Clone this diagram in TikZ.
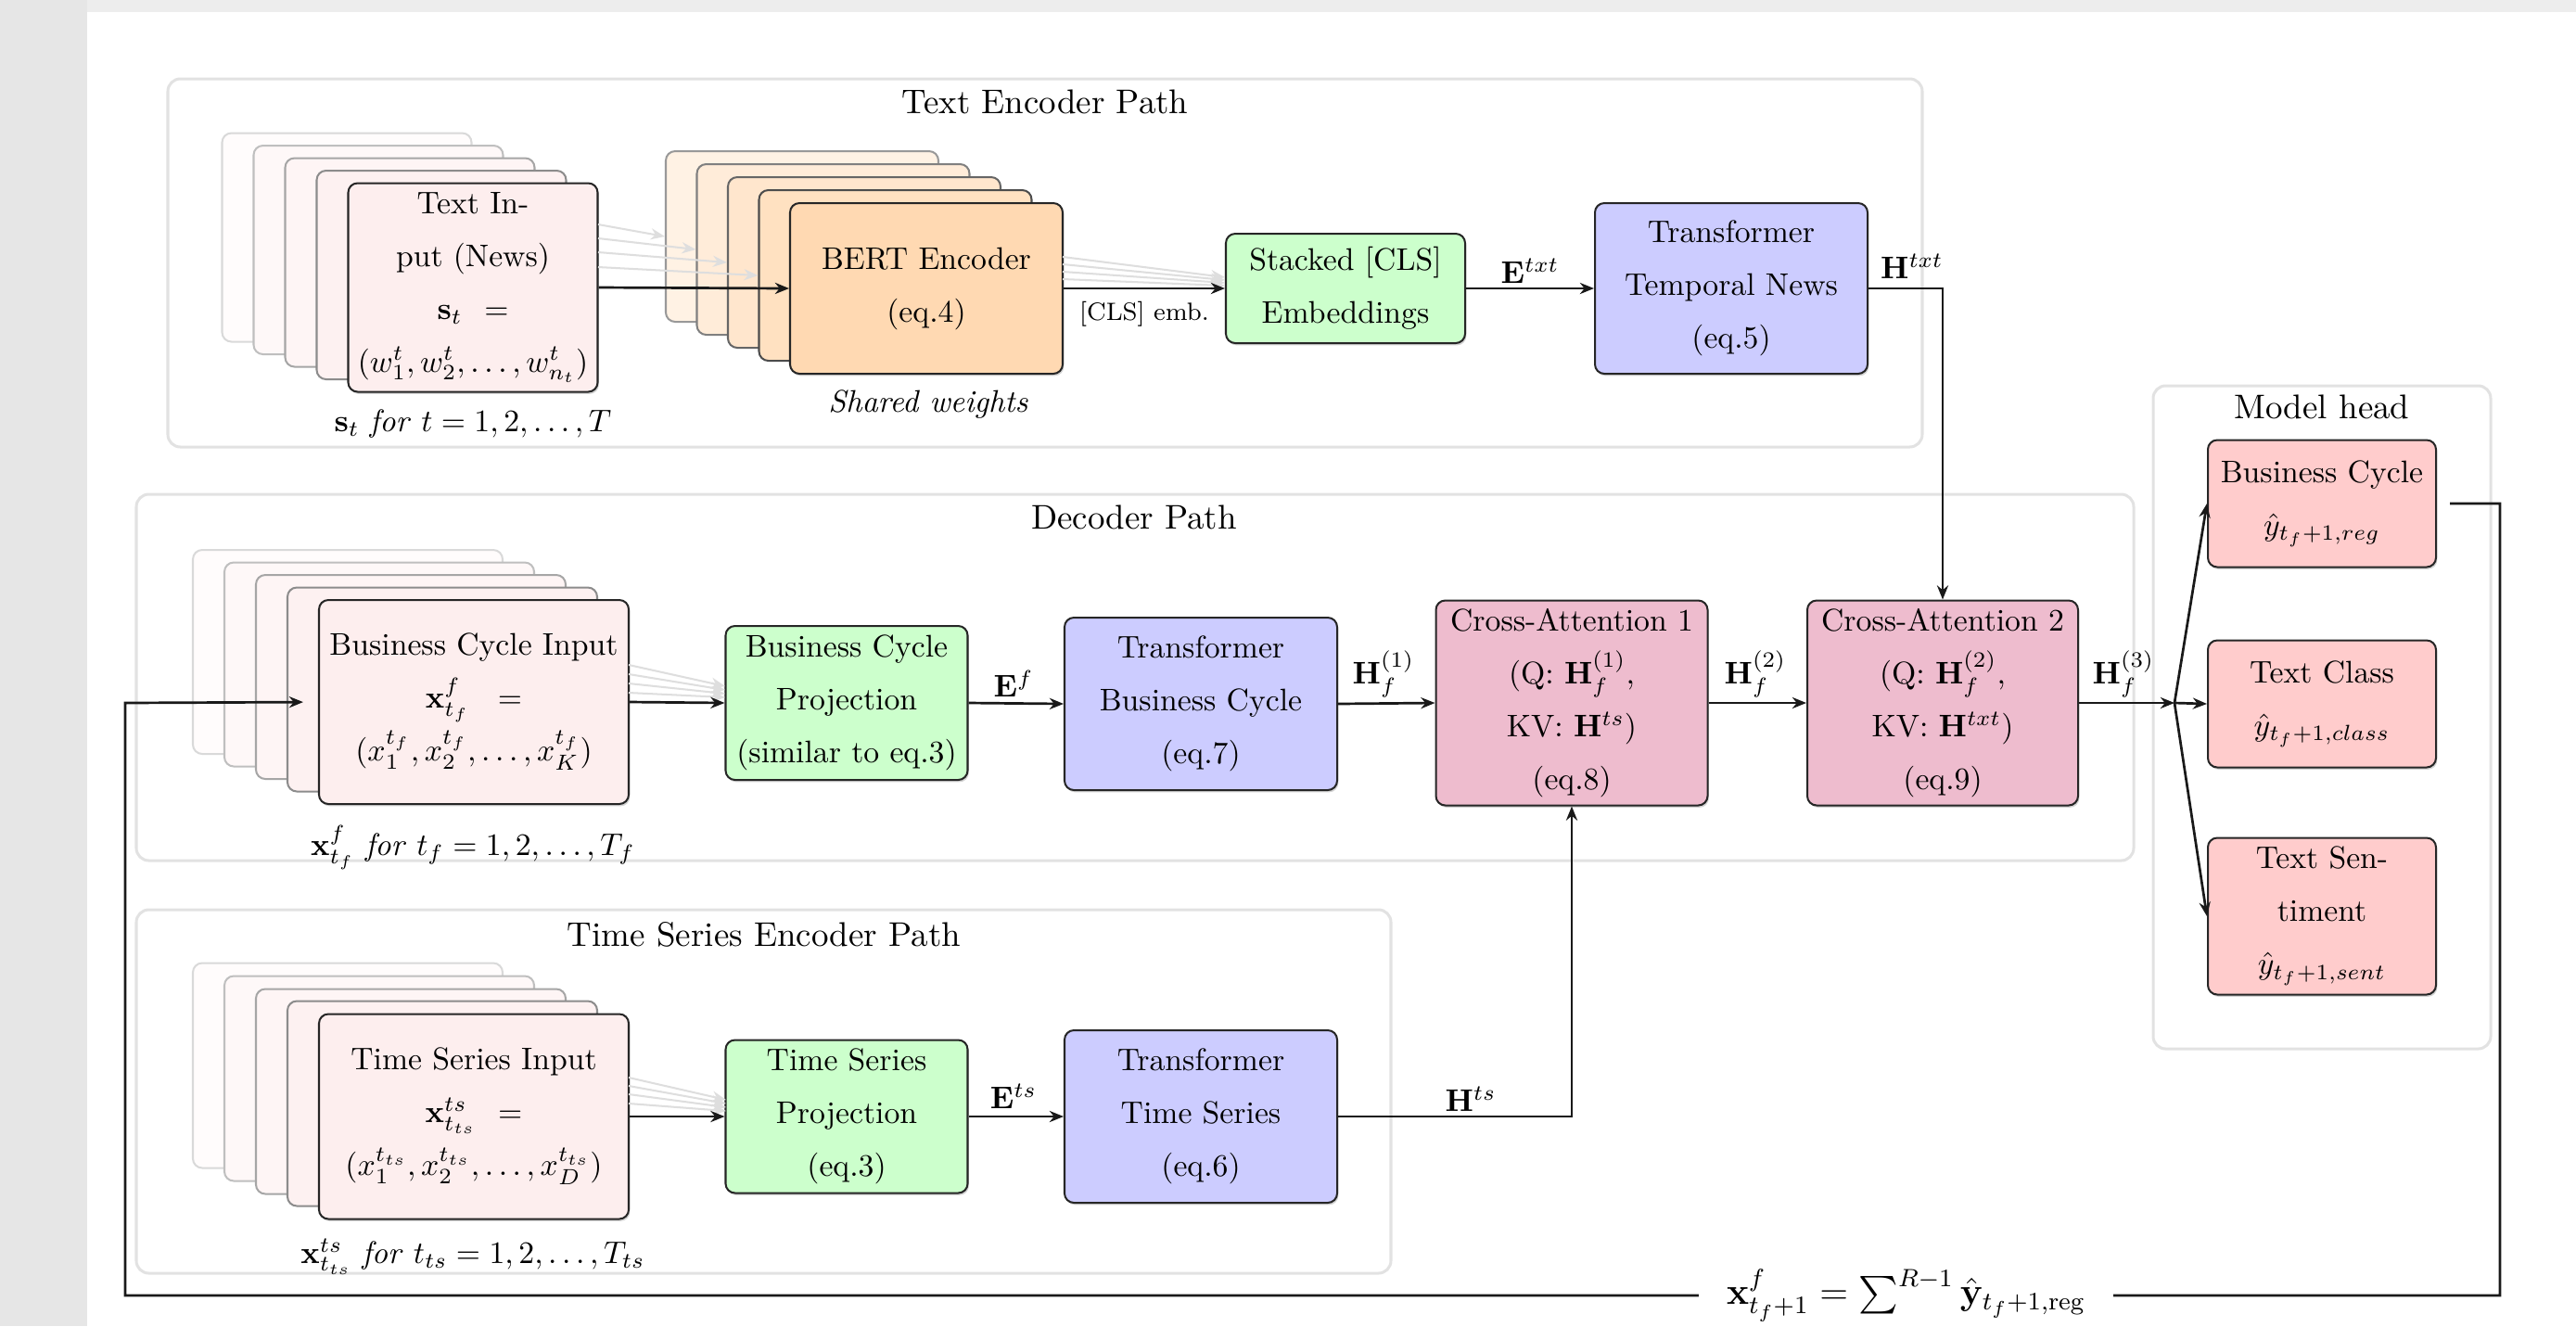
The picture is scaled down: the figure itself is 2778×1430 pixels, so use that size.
\documentclass[tikz,border=0pt]{standalone}
\usepackage{amsmath}
\usetikzlibrary{arrows.meta,calc,shadows}
\definecolor{inpink}{RGB}{253,238,238}
\definecolor{bertor}{RGB}{255,217,178}
\definecolor{projgr}{RGB}{204,255,204}
\definecolor{trlav}{RGB}{204,204,255}
\definecolor{camauve}{RGB}{238,188,206}
\definecolor{headpk}{RGB}{255,204,204}
\definecolor{grpline}{RGB}{226,226,226}
\definecolor{bggray}{RGB}{230,230,230}
\def\pxu{0.01042cm}
\begin{document}
\begin{tikzpicture}[x=\pxu,y=-\pxu,
  every node/.style={font=\fontsize{10}{16.9}\selectfont},
  wh/.style 2 args={minimum width=#1*\pxu, minimum height=#2*\pxu},
  box/.style={draw=black!85, line width=0.6pt, rounded corners=3pt, align=center, inner sep=1pt},
  shbox/.style={box, drop shadow={shadow xshift=0.4pt, shadow yshift=-0.7pt, opacity=0.35}},
  grp/.style={draw=grpline, line width=0.9pt, rounded corners=4pt, fill=white},
  gtitle/.style={font=\fontsize{10.95}{13}\selectfont},
  conn/.style={draw=black!90, line width=0.8pt, -{Stealth[length=4.5pt,width=3.6pt]}},
  garr/.style={draw=black!13, line width=0.6pt, -{Stealth[length=4.5pt,width=3.6pt]}},
  lbl/.style={inner sep=1pt},
  inbox/.style={wh={269}{225}},
  bertbox/.style={wh={294}{184}},
  dinbox/.style={wh={334}{220}},
]
\useasboundingbox (0,0) rectangle (2778,1430);
% screenshot margins
\fill[bggray] (0,0) rectangle (94,1430);
\fill[bggray!70] (94,0) rectangle (2778,13);

% ---------------- groups ----------------
\node[grp, wh={1892}{397}] (gtext) at (1127,283.5) {};
\node[gtitle] (ttext) at (1127,110) {Text Encoder Path};
\node[grp, wh={2154}{395}] (gdec) at (1224,730.5) {};
\node[gtitle] (tdec) at (1223,558) {Decoder Path};
\node[grp, wh={1353}{392}] (gts) at (823.5,1177) {};
\node[gtitle] (tts) at (824,1008) {Time Series Encoder Path};
\node[grp, wh={364}{715}] (ghead) at (2504,773.5) {};
\node[gtitle] (thead) at (2504,439) {Model head};

% ---------------- text encoder path ----------------
\node[box, inbox, fill=inpink!20!white, draw=black!15] (tin1) at (374,256) {};
\node[box, inbox, fill=inpink!40!white, draw=black!25] (tin2) at (408,269.5) {};
\node[box, inbox, fill=inpink!60!white, draw=black!35] (tin3) at (442,283) {};
\node[box, inbox, fill=inpink!80!white, draw=black!45] (tin4) at (476,296.5) {};
\node[shbox, inbox, fill=inpink] (tin) at (510,310)
  {Text In-\\put (News)\\$\mathbf{s}_t$\hspace{7pt}$=$\\$(w_1^t,w_2^t,\ldots,w_{n_t}^t)$};
\node[lbl] (tincap) at (510,457) {$\mathbf{s}_t$ \textit{for} $t=1,2,\ldots,T$};

\node[box, bertbox, fill=bertor!35!white, draw=black!40] (bert1) at (865,255) {};
\node[box, bertbox, fill=bertor!50!white, draw=black!50] (bert2) at (898.5,269) {};
\node[box, bertbox, fill=bertor!65!white, draw=black!60] (bert3) at (932,283) {};
\node[box, bertbox, fill=bertor!80!white, draw=black!70] (bert4) at (965.5,297) {};
\node[shbox, bertbox, fill=bertor] (bert) at (999,311) {BERT Encoder\\(eq.4)};
\node[lbl] (shared) at (1001,436) {\textit{Shared weights}};

\node[shbox, fill=projgr, wh={258}{118}] (stk) at (1451,311)
  {Stacked [CLS]\\Embeddings};
\node[shbox, fill=trlav, wh={294}{184}] (ttn) at (1867,311)
  {Transformer\\Temporal News\\(eq.5)};

% gray fan arrows (text path)
\coordinate (ta1) at (645,242);
\coordinate (ta2) at (645,257);
\coordinate (ta3) at (645,272);
\coordinate (ta4) at (645,288);
\draw[garr] (ta1) -- (bert1.west);
\draw[garr] (ta2) -- (bert2.west);
\draw[garr] (ta3) -- (bert3.west);
\draw[garr] (ta4) -- (bert4.west);
\draw[conn] (tin.east) -- (bert.west);

\coordinate (tb1) at (1146,277);
\coordinate (tb2) at (1146,285);
\coordinate (tb3) at (1146,293);
\coordinate (tb4) at (1146,301);
\coordinate (te1) at (1321,299);
\coordinate (te2) at (1321,302);
\coordinate (te3) at (1321,305);
\coordinate (te4) at (1321,308);
\draw[garr] (tb1) -- (te1);
\draw[garr] (tb2) -- (te2);
\draw[garr] (tb3) -- (te3);
\draw[garr] (tb4) -- (te4);
\draw[conn] (bert.east) -- (stk.west);
\node[lbl, font=\fontsize{8}{9.5}\selectfont] (clslbl) at (1234,339) {[CLS] emb.};
\draw[conn] (stk.east) -- (ttn.west);
\node[lbl] (letxt) at (1650,292) {$\mathbf{E}^{txt}$};

% ---------------- decoder path ----------------
\node[box, dinbox, fill=inpink!20!white, draw=black!15] (bcin1) at (375,703) {};
\node[box, dinbox, fill=inpink!40!white, draw=black!25] (bcin2) at (409,716.5) {};
\node[box, dinbox, fill=inpink!60!white, draw=black!35] (bcin3) at (443,730) {};
\node[box, dinbox, fill=inpink!80!white, draw=black!45] (bcin4) at (477,743.5) {};
\node[shbox, dinbox, fill=inpink] (bcin) at (511,757)
  {Business Cycle Input\\$\mathbf{x}^{f}_{t_f}$\hspace{9pt}$=$\\$(x_1^{t_f},x_2^{t_f},\ldots,x_K^{t_f})$};
\node[lbl] (bccap) at (510,914) {$\mathbf{x}^{f}_{t_f}$ \textit{for} $t_f=1,2,\ldots,T_f$};

\node[shbox, fill=projgr, wh={261}{166}] (bcproj) at (913,758)
  {Business Cycle\\Projection\\(similar to eq.3)};
\node[shbox, fill=trlav, wh={294}{186}] (tbc) at (1295,759)
  {Transformer\\Business Cycle\\(eq.7)};
\node[shbox, fill=camauve, wh={293}{221}] (ca1) at (1695,758)
  {Cross-Attention 1\\(Q: $\mathbf{H}_f^{(1)}$,\\KV: $\mathbf{H}^{ts}$)\\(eq.8)};
\node[shbox, fill=camauve, wh={292}{221}] (ca2) at (2095,758)
  {Cross-Attention 2\\(Q: $\mathbf{H}_f^{(2)}$,\\KV: $\mathbf{H}^{txt}$)\\(eq.9)};

\coordinate (ba1) at (678,717);
\coordinate (ba2) at (678,727);
\coordinate (ba3) at (678,737);
\coordinate (ba4) at (678,747);
\coordinate (be1) at (782,740);
\coordinate (be2) at (782,744);
\coordinate (be3) at (782,748);
\coordinate (be4) at (782,752);
\draw[garr] (ba1) -- (be1);
\draw[garr] (ba2) -- (be2);
\draw[garr] (ba3) -- (be3);
\draw[garr] (ba4) -- (be4);
\draw[conn] (bcin.east) -- (bcproj.west);
\draw[conn] (bcproj.east) -- (tbc.west);
\node[lbl] (lef) at (1093,737) {$\mathbf{E}^{f}$};
\draw[conn] (tbc.east) -- (ca1.west);
\node[lbl] (lh1) at (1492,727) {$\mathbf{H}_f^{(1)}$};
\draw[conn] (ca1.east) -- (ca2.west);
\node[lbl] (lh2) at (1893,727) {$\mathbf{H}_f^{(2)}$};
\draw[conn] (ttn.east) -| (ca2.north);
\node[lbl] (lhtxt) at (2062,287) {$\mathbf{H}^{txt}$};

% ---------------- time series encoder path ----------------
\node[box, dinbox, wh={334}{221}, fill=inpink!20!white, draw=black!15] (tsin1) at (375,1149) {};
\node[box, dinbox, wh={334}{221}, fill=inpink!40!white, draw=black!25] (tsin2) at (409,1163) {};
\node[box, dinbox, wh={334}{221}, fill=inpink!60!white, draw=black!35] (tsin3) at (443,1177) {};
\node[box, dinbox, wh={334}{221}, fill=inpink!80!white, draw=black!45] (tsin4) at (477,1190) {};
\node[shbox, dinbox, wh={334}{221}, fill=inpink] (tsin) at (511,1204)
  {Time Series Input\\$\mathbf{x}^{ts}_{t_{ts}}$\hspace{7pt}$=$\\$(x_1^{t_{ts}},x_2^{t_{ts}},\ldots,x_D^{t_{ts}})$};
\node[lbl] (tscap) at (510,1355) {$\mathbf{x}^{ts}_{t_{ts}}$ \textit{for} $t_{ts}=1,2,\ldots,T_{ts}$};

\node[shbox, fill=projgr, wh={261}{165}] (tsproj) at (913,1204)
  {Time Series\\Projection\\(eq.3)};
\node[shbox, fill=trlav, wh={294}{186}] (tts) at (1295,1204)
  {Transformer\\Time Series\\(eq.6)};

\coordinate (sa1) at (678,1162);
\coordinate (sa2) at (678,1171);
\coordinate (sa3) at (678,1180);
\coordinate (sa4) at (678,1190);
\coordinate (se1) at (783,1186);
\coordinate (se2) at (783,1190);
\coordinate (se3) at (783,1194);
\coordinate (se4) at (783,1198);
\draw[garr] (sa1) -- (se1);
\draw[garr] (sa2) -- (se2);
\draw[garr] (sa3) -- (se3);
\draw[garr] (sa4) -- (se4);
\draw[conn] (tsin.east) -- (tsproj.west);
\draw[conn] (tsproj.east) -- (tts.west);
\node[lbl] (lets) at (1093,1182) {$\mathbf{E}^{ts}$};
\draw[conn] (tts.east) -| (ca1.south);
\node[lbl] (lhts) at (1586,1185) {$\mathbf{H}^{ts}$};

% ---------------- model head ----------------
\node[shbox, fill=headpk, wh={246}{137}] (hbc) at (2504,543)
  {Business Cycle\\$\hat{y}_{t_f+1,reg}$};
\node[shbox, fill=headpk, wh={246}{137}] (hcls) at (2504,759)
  {Text Class\\$\hat{y}_{t_f+1,class}$};
\node[shbox, fill=headpk, wh={246}{169}] (hsent) at (2504,988)
  {Text Sen-\\timent\\$\hat{y}_{t_f+1,sent}$};

\coordinate (fork) at (2345,758);
\draw[conn] (ca2.east) -- (fork);
\node[lbl] (lh3) at (2290,727) {$\mathbf{H}_f^{(3)}$};
\draw[conn] (fork) -- (hbc.west);
\draw[conn] (fork) -- (hcls.west);
\draw[conn] (fork) -- (hsent.west);

% ---------------- feedback loop ----------------
\coordinate (fb1) at (2696,543);
\coordinate (fb2) at (2696,1397);
\coordinate (fb3) at (135,1397);
\coordinate (fb4) at (135,758);
\draw[conn, shorten <=14*\pxu, shorten >=16*\pxu] (hbc.east) -- (fb1) -- (fb2)
  -- node[pos=0.25, fill=white, inner xsep=30*\pxu, inner ysep=1pt, font=\fontsize{12}{14}\selectfont] (fblab)
     {$\mathbf{x}^{f}_{t_f+1}=\sum^{R-1}\hat{\mathbf{y}}_{t_f+1,\mathrm{reg}}$}
  (fb3) -- (fb4) -- (bcin.west);
\end{tikzpicture}
\end{document}
